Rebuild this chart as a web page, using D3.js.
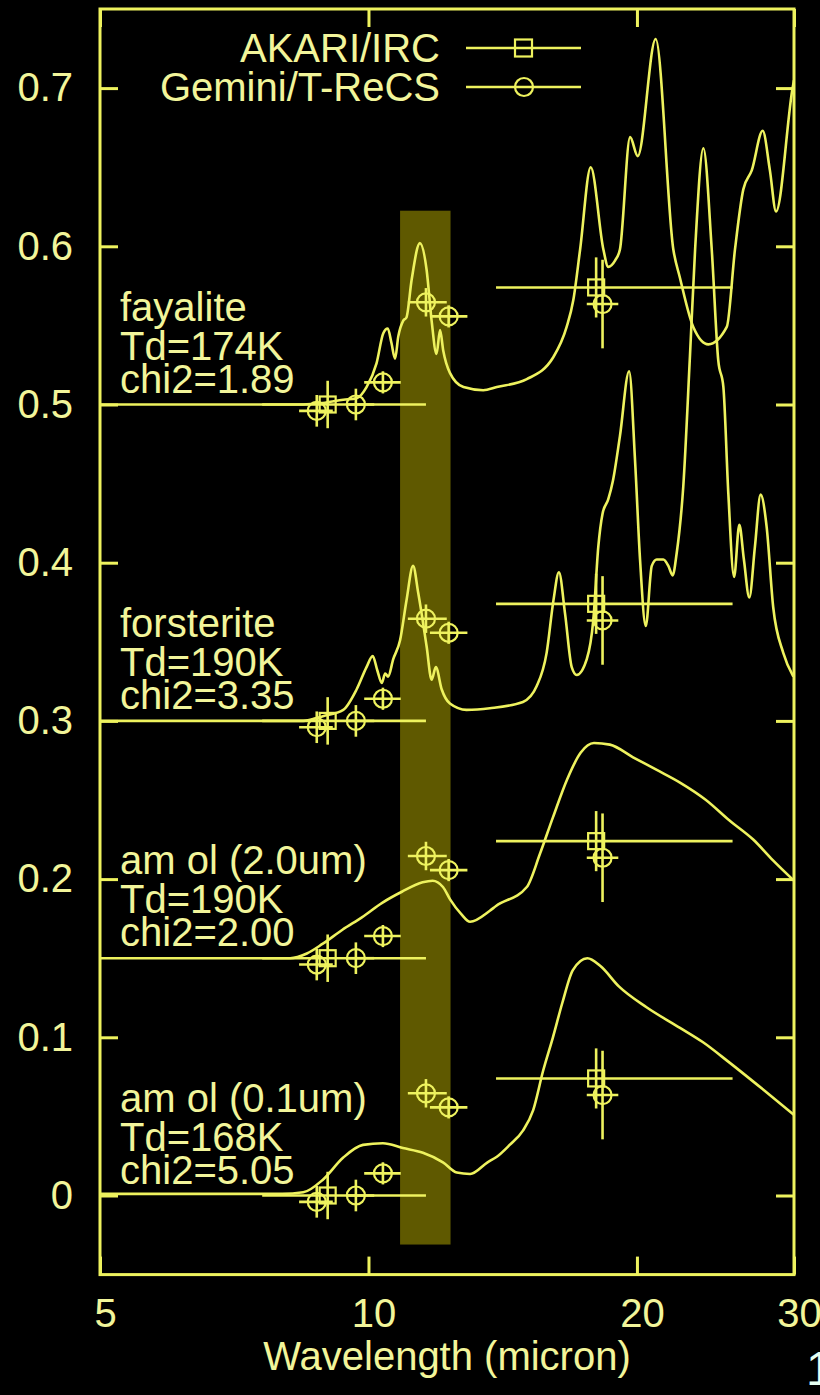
<!DOCTYPE html>
<html>
<head>
<meta charset="utf-8">
<script src="https://cdn.jsdelivr.net/npm/d3@7"></script>
<style>
  html, body { margin: 0; padding: 0; background: #000; }
  svg { display: block; }
  text { font-family: "Liberation Sans", Arial, Helvetica, sans-serif; }
</style>
</head>
<body>
<svg id="chart"></svg>
<script>
// ----- Data (flux offsets are added per model when drawn)
const xTicks = [5, 10, 20, 30];
const yTicks = [0, 0.1, 0.2, 0.3, 0.4, 0.5, 0.6, 0.7];

const modelNames = ["fayalite", "forsterite", "am ol (2.0um)", "am ol (0.1um)"];
const dustTemps = ["Td=174K", "Td=190K", "Td=190K", "Td=168K"];
const chi2Labels = ["chi2=1.89", "chi2=3.35", "chi2=2.00", "chi2=5.05"];
const offsets = [0.5, 0.3, 0.15, 0];

// model spectra: [wavelength (micron), flux]
const fayaliteModel = [
  [5, 0], [8.45, 0], [8.89, 0.001], [9.37, 0.003], [9.70, 0.004], [9.95, 0.011],
  [10.21, 0.026], [10.39, 0.045], [10.51, 0.048], [10.61, 0.039], [10.71, 0.029],
  [10.80, 0.043], [10.94, 0.053], [11.03, 0.055], [11.18, 0.079], [11.42, 0.102],
  [11.62, 0.085], [11.77, 0.053], [11.92, 0.032], [12.03, 0.047], [12.13, 0.034],
  [12.34, 0.020], [12.78, 0.011], [13.45, 0.009], [13.93, 0.011], [15.05, 0.016],
  [16.12, 0.030], [16.68, 0.049], [16.97, 0.066], [17.27, 0.098], [17.75, 0.150],
  [18.34, 0.098], [18.57, 0.087], [18.9, 0.091], [19.14, 0.098], [19.65, 0.169],
  [20.04, 0.157], [20.99, 0.231], [21.97, 0.098], [22.35, 0.080], [23.13, 0.049],
  [24.05, 0.038], [25.22, 0.049], [25.76, 0.098], [26.32, 0.136], [26.9, 0.148],
  [27.67, 0.173], [28.19, 0.148], [28.64, 0.122], [29.87, 0.199], [30, 0.205]
];
const forsteriteModel = [
  [5, 0], [8.45, 0], [8.89, 0.003], [9.37, 0.007], [9.70, 0.020], [9.95, 0.034],
  [10.11, 0.041], [10.23, 0.032], [10.35, 0.024], [10.44, 0.030], [10.52, 0.028],
  [10.66, 0.039], [10.85, 0.051], [11.03, 0.076], [11.22, 0.098], [11.37, 0.081],
  [11.62, 0.047], [11.77, 0.026], [11.90, 0.034], [12.08, 0.020], [12.34, 0.011],
  [12.88, 0.007], [13.68, 0.008], [14.9, 0.012], [15.44, 0.022], [15.84, 0.043],
  [16.12, 0.076], [16.35, 0.094], [16.61, 0.068], [16.9, 0.034], [17.12, 0.029],
  [17.57, 0.039], [17.87, 0.064], [18.1, 0.110], [18.3, 0.131], [18.57, 0.140],
  [18.8, 0.152], [19.14, 0.180], [19.6, 0.221], [19.9, 0.165], [20.16, 0.102],
  [20.46, 0.060], [20.78, 0.098], [21.05, 0.102], [21.41, 0.102], [21.69, 0.098],
  [21.93, 0.092], [22.16, 0.106], [22.54, 0.148], [22.93, 0.230], [23.24, 0.298],
  [23.74, 0.362], [24.26, 0.298], [24.67, 0.228], [25.0, 0.211], [25.32, 0.144],
  [25.7, 0.091], [26.05, 0.124], [26.36, 0.102], [26.73, 0.078], [27.12, 0.110],
  [27.52, 0.143], [27.95, 0.123], [28.43, 0.072], [29.18, 0.043], [29.95, 0.028]
];
const amol20Model = [
  [5, 0], [8.17, 0], [8.53, 0.003], [8.88, 0.009], [9.35, 0.018], [9.84, 0.026],
  [10.36, 0.035], [10.9, 0.042], [11.5, 0.048], [11.8, 0.049], [12.12, 0.045],
  [12.35, 0.037], [12.7, 0.028], [13.0, 0.023], [13.68, 0.030], [13.9, 0.033],
  [15.05, 0.045], [15.57, 0.066], [16.1, 0.089], [16.7, 0.113], [17.3, 0.130],
  [17.9, 0.136], [18.65, 0.135], [19.8, 0.127], [21.05, 0.119], [22.35, 0.111],
  [23.9, 0.100], [25.4, 0.087], [27.0, 0.075], [28.4, 0.062], [30, 0.049]
];
const amol01Model = [
  [5, 0.001], [8.0, 0.001], [8.45, 0.002], [8.89, 0.010], [9.37, 0.024], [9.86, 0.032],
  [10.38, 0.033], [10.93, 0.030], [11.51, 0.027], [12.12, 0.021], [12.56, 0.0145],
  [13.0, 0.0136], [13.6, 0.021], [13.93, 0.0245], [14.4, 0.032], [14.9, 0.041],
  [15.3, 0.054], [15.7, 0.079], [16.1, 0.100], [16.5, 0.122], [16.95, 0.1425],
  [17.6, 0.150], [18.2, 0.145], [19.1, 0.132], [20.5, 0.119], [22.35, 0.106],
  [23.7, 0.097], [25.4, 0.084], [27.7, 0.067], [30, 0.051]
];

// AKARI/IRC photometry (S9W, L18W)
const akariWave = [9.0, 18.0];
const akariFlux = [0.0, 0.074];
const akariErr = [0.015, 0.019];
const akariLo = [7.6, 13.9];
const akariHi = [11.6, 25.6];

// Gemini/T-ReCS photometry
const geminiWave = [8.75, 9.68, 10.38, 11.6, 12.3, 18.3];
const geminiFlux = [-0.004, 0.0, 0.014, 0.0646, 0.0557, 0.0635];
const geminiErr = [0.01, 0.01, 0.007, 0.009, 0.007, 0.028];
const geminiLo = [8.36, 9.45, 9.89, 11.07, 11.72, 17.57];
const geminiHi = [9.12, 10.15, 10.87, 12.24, 12.91, 19.06];

// shaded filter band
const bandWave = [10.85, 12.36];
const bandFlux = [-0.031, 0.6225];

// ----- Setup
const W = 820, H = 1395;
const plot = { left: 100, right: 794, top: 9, bottom: 1274.6 };
const LINE = "#eef25e";
const TEXT = "#f2f59a";
const FONT = 40;

const svg = d3.select("#chart").attr("width", W).attr("height", H);
svg.append("rect").attr("width", W).attr("height", H).attr("fill", "#000");

const x = d3.scaleLog().domain([5, 30]).range([plot.left, plot.right]);
const y = d3.scaleLinear().domain([-0.05, 0.75]).range([plot.bottom, plot.top]);

svg.append("clipPath").attr("id", "clip")
  .append("rect")
    .attr("x", plot.left).attr("y", plot.top)
    .attr("width", plot.right - plot.left).attr("height", plot.bottom - plot.top);

// band behind everything
svg.append("rect")
  .attr("x", x(bandWave[0]))
  .attr("y", y(bandFlux[1]))
  .attr("width", x(bandWave[1]) - x(bandWave[0]))
  .attr("height", y(bandFlux[0]) - y(bandFlux[1]))
  .attr("fill", "#5f5900");

const models = [fayaliteModel, forsteriteModel, amol20Model, amol01Model];

const g = svg.append("g").attr("clip-path", "url(#clip)");

models.forEach((m, i) => {
  const off = offsets[i];
  const line = d3.line()
    .x(d => x(d[0]))
    .y(d => y(d[1] + off))
    .curve(d3.curveMonotoneX);
  g.append("path")
    .attr("d", line(m))
    .attr("fill", "none")
    .attr("stroke", LINE)
    .attr("stroke-width", 2.6)
    .attr("stroke-linejoin", "round");
});

// error bars + symbols
function drawPoints(wave, flux, err, lo, hi, off, kind) {
  wave.forEach((w, j) => {
    const cx = x(w), cy = y(flux[j] + off);
    g.append("line")
      .attr("x1", x(lo[j])).attr("x2", x(hi[j]))
      .attr("y1", cy).attr("y2", cy)
      .attr("stroke", LINE).attr("stroke-width", 2.6);
    g.append("line")
      .attr("x1", cx).attr("x2", cx)
      .attr("y1", y(flux[j] - err[j] + off)).attr("y2", y(flux[j] + err[j] + off))
      .attr("stroke", LINE).attr("stroke-width", 2.6);
    if (kind === "square") {
      g.append("rect")
        .attr("x", cx - 8).attr("y", cy - 8)
        .attr("width", 16).attr("height", 16)
        .attr("fill", "none").attr("stroke", LINE).attr("stroke-width", 2.2);
    } else {
      g.append("circle")
        .attr("cx", cx).attr("cy", cy).attr("r", 9)
        .attr("fill", "none").attr("stroke", LINE).attr("stroke-width", 2.2);
    }
  });
}

offsets.forEach(off => {
  drawPoints(akariWave, akariFlux, akariErr, akariLo, akariHi, off, "square");
  drawPoints(geminiWave, geminiFlux, geminiErr, geminiLo, geminiHi, off, "circle");
});

// ----- Frame & axes
svg.append("rect")
  .attr("x", plot.left).attr("y", plot.top)
  .attr("width", plot.right - plot.left).attr("height", plot.bottom - plot.top)
  .attr("fill", "none").attr("stroke", LINE).attr("stroke-width", 3);

function styleAxis(sel) {
  sel.select(".domain").remove();
  sel.selectAll(".tick line").attr("stroke", LINE).attr("stroke-width", 3);
  sel.selectAll(".tick text")
    .attr("fill", TEXT)
    .attr("font-size", FONT)
    .attr("font-family", "Liberation Sans, Arial, sans-serif");
}

svg.append("g")
  .attr("transform", `translate(${plot.left},0)`)
  .call(d3.axisLeft(y).tickValues(yTicks).tickSizeInner(-18).tickSizeOuter(0)
    .tickPadding(27).tickFormat(d => d === 0 ? "0" : d3.format(".1f")(d)))
  .call(styleAxis);

svg.append("g")
  .attr("transform", `translate(${plot.right},0)`)
  .call(d3.axisRight(y).tickValues(yTicks).tickSizeInner(-18).tickSizeOuter(0).tickFormat(""))
  .call(styleAxis);

svg.append("g")
  .attr("transform", `translate(0,${plot.bottom})`)
  .call(d3.axisBottom(x).tickValues(xTicks).tickSizeInner(-18).tickSizeOuter(0)
    .tickPadding(24).tickFormat(d3.format("d")))
  .call(styleAxis)
  .call(a => a.selectAll(".tick text").attr("dx", 5));

svg.append("g")
  .attr("transform", `translate(0,${plot.top})`)
  .call(d3.axisTop(x).tickValues(xTicks).tickSizeInner(-18).tickSizeOuter(0).tickFormat(""))
  .call(styleAxis);

svg.append("text")
  .attr("x", (plot.left + plot.right) / 2)
  .attr("y", 1370)
  .attr("text-anchor", "middle")
  .attr("font-size", FONT)
  .attr("fill", TEXT)
  .text("Wavelength (micron)");

// ----- Model annotations
const lineShift = [-84, -45, -12];
modelNames.forEach((name, i) => {
  const base = y(offsets[i]);
  [name, dustTemps[i], chi2Labels[i]].forEach((t, k) => {
    svg.append("text")
      .attr("x", 120)
      .attr("y", base + lineShift[k])
      .attr("font-size", FONT)
      .attr("fill", TEXT)
      .text(t);
  });
});

// ----- Legend
const legend = svg.append("g");
const legendRows = [
  { label: "AKARI/IRC", kind: "square", y: 48 },
  { label: "Gemini/T-ReCS", kind: "circle", y: 87 }
];
legendRows.forEach(r => {
  legend.append("text")
    .attr("x", 440).attr("y", r.y + 14)
    .attr("text-anchor", "end")
    .attr("font-size", FONT)
    .attr("fill", TEXT)
    .text(r.label);
  legend.append("line")
    .attr("x1", 466).attr("x2", 581).attr("y1", r.y).attr("y2", r.y)
    .attr("stroke", LINE).attr("stroke-width", 2.6);
  if (r.kind === "square") {
    legend.append("rect")
      .attr("x", 515).attr("y", r.y - 8.5).attr("width", 17).attr("height", 17)
      .attr("fill", "none").attr("stroke", LINE).attr("stroke-width", 2.2);
  } else {
    legend.append("circle")
      .attr("cx", 524).attr("cy", r.y).attr("r", 9)
      .attr("fill", "none").attr("stroke", LINE).attr("stroke-width", 2.2);
  }
});

// clipped slide number at the lower right edge
svg.append("text")
  .attr("x", 806).attr("y", 1385)
  .attr("font-size", 48)
  .attr("fill", "#e6fff2")
  .text("1");
</script>
</body>
</html>
